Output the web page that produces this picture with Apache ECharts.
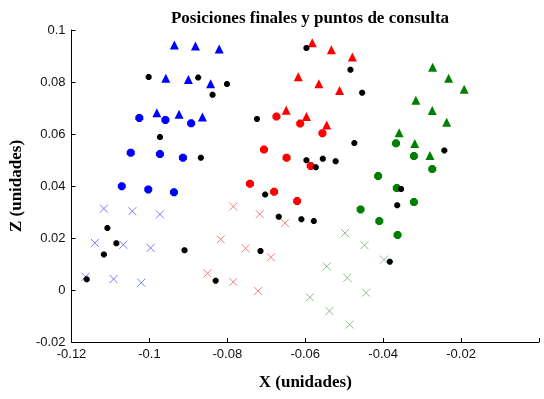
<!DOCTYPE html>
<html>
<head>
<meta charset="utf-8">
<script src="https://cdn.jsdelivr.net/npm/echarts@6/dist/echarts.min.js"></script>
<style>
  html, body { margin: 0; padding: 0; background: #fff; }
  #chart { width: 544px; height: 399px; }
</style>
</head>
<body>
<div id="chart"></div>
<script>
// tick labels
const xTicks = [-0.12, -0.1, -0.08, -0.06, -0.04, -0.02, 0];
const yTicks = [-0.02, 0, 0.02, 0.04, 0.06, 0.08, 0.1];

// final positions (triangles / circles) and query points (crosses), [x, z]
const blueTriangles = [[-0.0936, 0.0942], [-0.0882, 0.0938], [-0.0821, 0.0927], [-0.0958, 0.0814], [-0.0900, 0.0810], [-0.0843, 0.0793], [-0.0981, 0.0682], [-0.0924, 0.0676], [-0.0864, 0.0665]];
const blueCircles = [[-0.1026, 0.0662], [-0.0959, 0.0654], [-0.0893, 0.0641], [-0.1048, 0.0528], [-0.0973, 0.0523], [-0.0914, 0.0509], [-0.1071, 0.0399], [-0.1003, 0.0387], [-0.0937, 0.0376]];
const blueCrosses = [[-0.1117, 0.0313], [-0.1044, 0.0303], [-0.0973, 0.0291], [-0.1140, 0.0181], [-0.1067, 0.0174], [-0.0997, 0.0162], [-0.1164, 0.0051], [-0.1092, 0.0042], [-0.1021, 0.0028]];

const redTriangles = [[-0.0582, 0.0951], [-0.0533, 0.0924], [-0.0479, 0.0896], [-0.0618, 0.0820], [-0.0565, 0.0793], [-0.0512, 0.0767], [-0.0649, 0.0691], [-0.0597, 0.0667], [-0.0545, 0.0635]];
const redCircles = [[-0.0674, 0.0667], [-0.0613, 0.0640], [-0.0556, 0.0603], [-0.0706, 0.0540], [-0.0648, 0.0509], [-0.0586, 0.0477], [-0.0742, 0.0409], [-0.0680, 0.0378], [-0.0621, 0.0342]];
const redCrosses = [[-0.0785, 0.0321], [-0.0717, 0.0292], [-0.0652, 0.0257], [-0.0817, 0.0195], [-0.0753, 0.0160], [-0.0688, 0.0126], [-0.0851, 0.0064], [-0.0785, 0.0031], [-0.0721, -0.0004]];

const greenTriangles = [[-0.0273, 0.0857], [-0.0232, 0.0814], [-0.0192, 0.0772], [-0.0316, 0.0730], [-0.0274, 0.0690], [-0.0237, 0.0645], [-0.0359, 0.0605], [-0.0319, 0.0563], [-0.0280, 0.0517]];
const greenCircles = [[-0.0367, 0.0564], [-0.0321, 0.0515], [-0.0274, 0.0465], [-0.0413, 0.0438], [-0.0365, 0.0392], [-0.0321, 0.0338], [-0.0458, 0.0310], [-0.0410, 0.0265], [-0.0363, 0.0212]];
const greenCrosses = [[-0.0498, 0.0219], [-0.0448, 0.0172], [-0.0398, 0.0117], [-0.0545, 0.0091], [-0.0492, 0.0047], [-0.0444, -0.0010], [-0.0588, -0.0028], [-0.0538, -0.0081], [-0.0486, -0.0133]];

const blackPoints = [[-0.1002, 0.0819], [-0.0875, 0.0817], [-0.0801, 0.0792], [-0.0838, 0.0751], [-0.0973, 0.0588], [-0.0868, 0.0509],
  [-0.1108, 0.0238], [-0.1085, 0.0180], [-0.1117, 0.0137], [-0.0910, 0.0153], [-0.1161, 0.0041], [-0.0830, 0.0036],
  [-0.0597, 0.0931], [-0.0484, 0.0847], [-0.0454, 0.0759], [-0.0724, 0.0658], [-0.0474, 0.0565], [-0.0597, 0.0499],
  [-0.0555, 0.0505], [-0.0522, 0.0495], [-0.0573, 0.0472], [-0.0703, 0.0367], [-0.0668, 0.0282], [-0.0610, 0.0272],
  [-0.0578, 0.0265], [-0.0715, 0.0150], [-0.0243, 0.0537], [-0.0354, 0.0388], [-0.0364, 0.0326], [-0.0383, 0.0109]];

const crossPath = 'path://M0,0L10,10M10,0L0,10';
const hexPath = 'path://M3,0L7,0L10,3L10,7L7,10L3,10L0,7L0,3Z';

function filled(data, symbol, size, color) {
  return {
    type: 'scatter', data: data, symbol: symbol, symbolSize: size,
    itemStyle: { color: color, opacity: 1 },
    emphasis: { disabled: true }, z: 3
  };
}
function crosses(data, color) {
  return {
    type: 'scatter', data: data, symbol: crossPath, symbolSize: 8,
    itemStyle: { color: 'transparent', borderColor: color, borderWidth: 1 },
    emphasis: { disabled: true }, z: 2
  };
}

const chart = echarts.init(document.getElementById('chart'));
chart.setOption({
  animation: false,
  backgroundColor: '#fff',
  title: {
    text: 'Posiciones finales y puntos de consulta',
    left: 305, top: 5, textAlign: 'center',
    textStyle: { fontFamily: 'Liberation Serif', fontWeight: 'bold', fontSize: 17, color: '#000' }
  },
  grid: { left: 71, right: 5, top: 30, bottom: 57 },
  xAxis: {
    type: 'value', min: -0.12, max: 0, interval: 0.02,
    name: 'X (unidades)', nameLocation: 'middle', nameGap: 32,
    nameTextStyle: { fontFamily: 'Liberation Serif', fontWeight: 'bold', fontSize: 17, color: '#000' },
    axisLine: { show: true, onZero: false, lineStyle: { color: '#000', width: 1 } },
    axisTick: { show: true, inside: true, length: 4, lineStyle: { color: '#000' } },
    splitLine: { show: false },
    axisLabel: {
      fontFamily: 'Liberation Sans', fontSize: 13, color: '#111', margin: 6,
      formatter: function (v) {
        const t = xTicks.find(function (k) { return Math.abs(k - v) < 1e-9; });
        if (t === undefined || t === 0) return '';
        return String(t);
      }
    }
  },
  yAxis: {
    type: 'value', min: -0.02, max: 0.1, interval: 0.02,
    name: 'Z (unidades)', nameLocation: 'middle', nameGap: 46, nameRotate: 90,
    nameTextStyle: { fontFamily: 'Liberation Serif', fontWeight: 'bold', fontSize: 17, color: '#000' },
    axisLine: { show: true, onZero: false, lineStyle: { color: '#000', width: 1 } },
    axisTick: { show: true, inside: true, length: 4, lineStyle: { color: '#000' } },
    splitLine: { show: false },
    axisLabel: {
      fontFamily: 'Liberation Sans', fontSize: 13, color: '#111', margin: 6,
      formatter: function (v) {
        const t = yTicks.find(function (k) { return Math.abs(k - v) < 1e-9; });
        return t === undefined ? '' : String(t);
      }
    }
  },
  series: [
    crosses(blueCrosses, '#5a5aff'),
    crosses(redCrosses, '#f06060'),
    crosses(greenCrosses, '#7aa87a'),
    filled(blueTriangles, 'triangle', 9, '#0000ff'),
    filled(blueCircles, hexPath, 8, '#0000ff'),
    filled(redTriangles, 'triangle', 9, '#ff0000'),
    filled(redCircles, hexPath, 8, '#ff0000'),
    filled(greenTriangles, 'triangle', 9, '#008000'),
    filled(greenCircles, hexPath, 8, '#008000'),
    filled(blackPoints, hexPath, 6, '#000000')
  ]
});
</script>
</body>
</html>
